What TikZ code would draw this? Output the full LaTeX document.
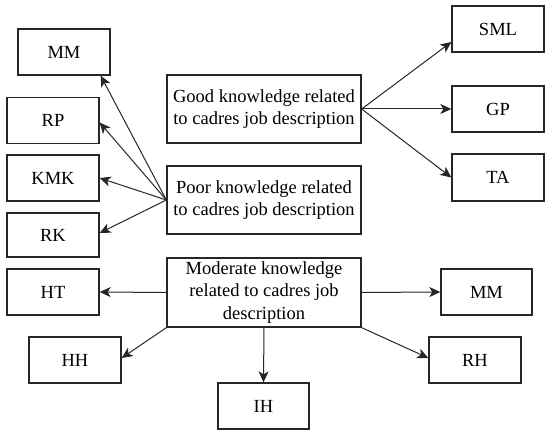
\documentclass[tikz,border=0pt]{standalone}
\usepackage{fontspec}
\setmainfont{Liberation Serif}
\usetikzlibrary{arrows.meta}
\begin{document}
\begin{tikzpicture}[x=1pt,y=-1pt,
  box/.style={draw=black!85,line width=1.3pt,minimum width=92pt,minimum height=46pt,inner sep=0pt,font=\fontsize{18.5}{22.5}\selectfont},
  bigbox/.style={box,minimum width=194pt,minimum height=68pt,align=center},
  arr/.style={draw=black!85,line width=1pt,-{Stealth[length=11pt,width=10pt,inset=3pt]}}]
\useasboundingbox (0,0) rectangle (550,433);
\node[bigbox] (good) at (264,109) {Good knowledge related\\to cadres job description};
\node[bigbox] (poor) at (264,200) {Poor knowledge related\\to cadres job description};
\node[bigbox,minimum height=69pt] (mod) at (264,292.5) {Moderate knowledge\\related to cadres job\\description};
\node[box] (mma) at (64,52) {MM};
\node[box] (rp) at (53,120.5) {RP};
\node[box] (kmk) at (53,178) {KMK};
\node[box,minimum height=44pt] (rk) at (53,235) {RK};
\node[box] (ht) at (53,292) {HT};
\node[box] (hh) at (75,360) {HH};
\node[box,minimum width=91pt] (ih) at (263.5,406) {IH};
\node[box,minimum width=91pt] (mmb) at (486.5,292) {MM};
\node[box] (rh) at (475,360) {RH};
\node[box] (sml) at (498,29) {SML};
\node[box] (gp) at (498,109) {GP};
\node[box,minimum height=47pt] (ta) at (498,177.5) {TA};
\draw[arr] (good.east) -- ([yshift=-13pt]sml.west);
\draw[arr] (good.east) -- (gp.west);
\draw[arr] (good.east) -- (ta.west);
\draw[arr] (poor.west) -- ([xshift=-10pt]mma.south east);
\draw[arr] (poor.west) -- ([yshift=-2pt]rp.east);
\draw[arr] (poor.west) -- (kmk.east);
\draw[arr] (poor.west) -- ([yshift=2pt]rk.east);
\draw[arr] (mod.west) -- (ht.east);
\draw[arr] (mod.south west) -- ([yshift=2pt]hh.east);
\draw[arr] (mod.south) -- (ih.north);
\draw[arr] (mod.east) -- (mmb.west);
\draw[arr] (mod.south east) -- ([yshift=2pt]rh.west);
\end{tikzpicture}
\end{document}
